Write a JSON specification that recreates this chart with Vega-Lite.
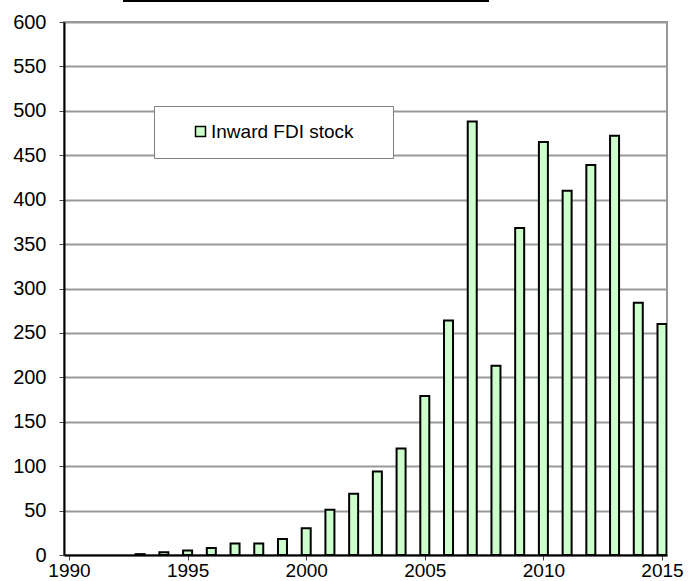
{
  "$schema": "https://vega.github.io/schema/vega-lite/v6.json",
  "width": 603,
  "height": 533,
  "autosize": "none",
  "padding": {"left": 64, "top": 22, "right": 27, "bottom": 26},
  "background": "white",
  "config": {
    "font": "Liberation Sans",
    "view": {"stroke": "#999999", "strokeWidth": 2}
  },
  "data": {
    "values": [
      {"year": 1993, "value": 1, "series": "Inward FDI stock"},
      {"year": 1994, "value": 3, "series": "Inward FDI stock"},
      {"year": 1995, "value": 5, "series": "Inward FDI stock"},
      {"year": 1996, "value": 8, "series": "Inward FDI stock"},
      {"year": 1997, "value": 13, "series": "Inward FDI stock"},
      {"year": 1998, "value": 13, "series": "Inward FDI stock"},
      {"year": 1999, "value": 18, "series": "Inward FDI stock"},
      {"year": 2000, "value": 30, "series": "Inward FDI stock"},
      {"year": 2001, "value": 51, "series": "Inward FDI stock"},
      {"year": 2002, "value": 69, "series": "Inward FDI stock"},
      {"year": 2003, "value": 94, "series": "Inward FDI stock"},
      {"year": 2004, "value": 120, "series": "Inward FDI stock"},
      {"year": 2005, "value": 179, "series": "Inward FDI stock"},
      {"year": 2006, "value": 264, "series": "Inward FDI stock"},
      {"year": 2007, "value": 488, "series": "Inward FDI stock"},
      {"year": 2008, "value": 213, "series": "Inward FDI stock"},
      {"year": 2009, "value": 368, "series": "Inward FDI stock"},
      {"year": 2010, "value": 465, "series": "Inward FDI stock"},
      {"year": 2011, "value": 410, "series": "Inward FDI stock"},
      {"year": 2012, "value": 439, "series": "Inward FDI stock"},
      {"year": 2013, "value": 472, "series": "Inward FDI stock"},
      {"year": 2014, "value": 284, "series": "Inward FDI stock"},
      {"year": 2015, "value": 260, "series": "Inward FDI stock"}
    ]
  },
  "layer": [
    {
      "mark": {"type": "bar", "width": 9, "stroke": "black", "strokeWidth": 2, "clip": true},
      "encoding": {
        "x": {
          "field": "year",
          "type": "quantitative",
          "scale": {"domain": [1990, 2015], "nice": false, "zero": false},
          "axis": {
            "title": null,
            "values": [1990, 1995, 2000, 2005, 2010, 2015],
            "format": "d",
            "grid": false,
            "labelFontSize": 19,
            "labelColor": "black",
            "labelPadding": 1,
            "labelFlush": false,
            "labelOverlap": false,
            "tickSize": 5,
            "tickColor": "#444444",
            "tickWidth": 1,
            "domainColor": "black",
            "domainWidth": 2
          }
        },
        "y": {
          "field": "value",
          "type": "quantitative",
          "scale": {"domain": [0, 600], "nice": false},
          "axis": {
            "title": null,
            "values": [0, 25, 50, 75, 100, 125, 150, 175, 200, 225, 250, 275, 300, 325, 350, 375, 400, 425, 450, 475, 500, 525, 550, 575, 600],
            "labelExpr": "datum.value % 50 === 0 ? datum.label : ''",
            "grid": true,
            "gridColor": "#999999",
            "gridWidth": 2,
            "labelFontSize": 20,
            "labelColor": "black",
            "labelPadding": 13,
            "tickSize": 5,
            "tickColor": "#444444",
            "tickWidth": 1,
            "domainColor": "black",
            "domainWidth": 2
          }
        },
        "fill": {
          "field": "series",
          "type": "nominal",
          "scale": {"range": ["#ccffcc"]},
          "legend": {
            "title": null,
            "orient": "none",
            "legendX": 90,
            "legendY": 84,
            "fillColor": "white",
            "strokeColor": "#808080",
            "padding": 16,
            "symbolType": "square",
            "symbolSize": 100,
            "symbolStrokeColor": "black",
            "symbolStrokeWidth": 1.5,
            "symbolOffset": 21,
            "labelOffset": 1,
            "labelFontSize": 19,
            "labelLimit": 400,
            "labelColor": "black",
            "labelExpr": "datum.label + '\u2003\u2009\u200b'"
          }
        }
      }
    },
    {
      "mark": {"type": "rule", "color": "black", "strokeWidth": 2, "clip": false},
      "encoding": {
        "x": {"datum": 1992.3},
        "x2": {"datum": 2007.7},
        "y": {"datum": 624}
      }
    }
  ]
}
